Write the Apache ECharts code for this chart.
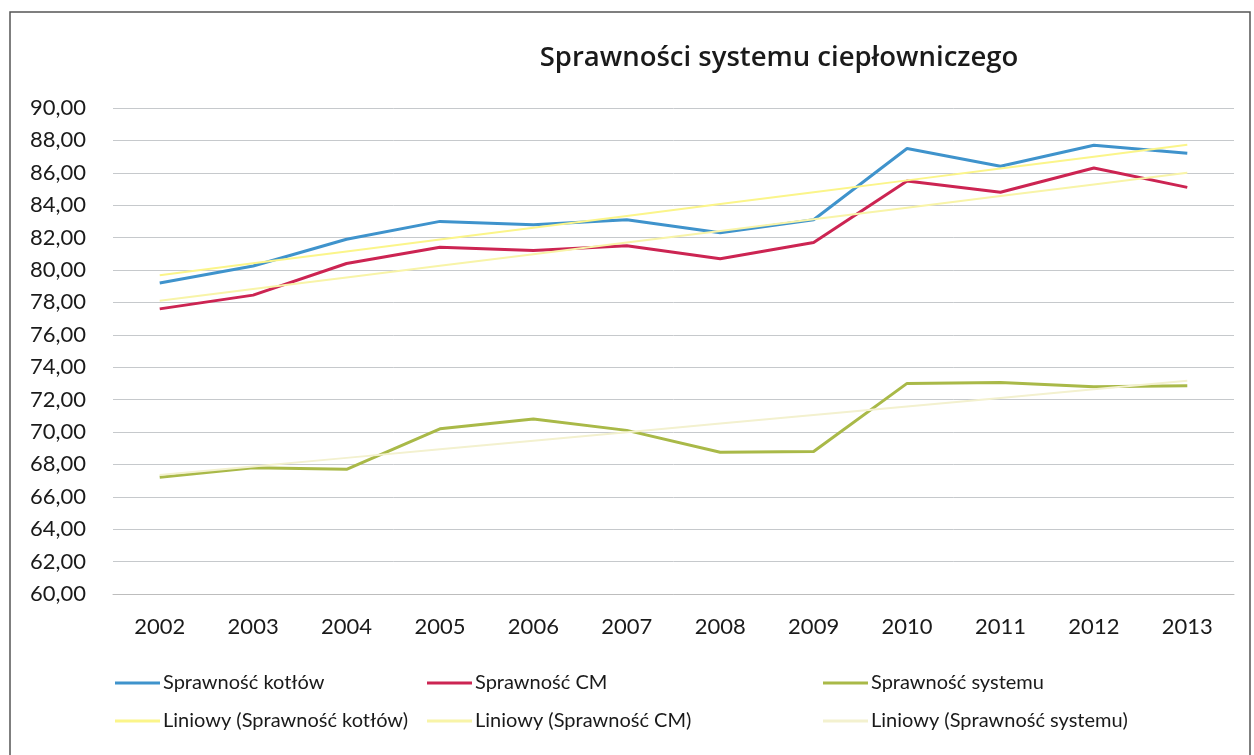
<!DOCTYPE html>
<html>
<head>
<meta charset="utf-8">
<script src="https://cdn.jsdelivr.net/npm/echarts@6/dist/echarts.min.js"></script>
<style>
  html, body { margin: 0; padding: 0; background: #fff; }
  #chart { width: 1254px; height: 755px; }
</style>
</head>
<body>
<div id="chart"></div>
<script>
// Heating system efficiencies, 2002–2013 (%)
const years = ['2002','2003','2004','2005','2006','2007','2008','2009','2010','2011','2012','2013'];
const kotlow  = [79.2, 80.25, 81.9, 83.0, 82.8, 83.1, 82.3, 83.1, 87.5, 86.4, 87.7, 87.2];
const cm      = [77.6, 78.45, 80.4, 81.4, 81.2, 81.5, 80.7, 81.7, 85.5, 84.8, 86.3, 85.1];
const systemu = [67.2, 67.8, 67.7, 70.2, 70.8, 70.1, 68.75, 68.8, 73.0, 73.05, 72.8, 72.85];

const names = ['Sprawność kotłów', 'Sprawność CM', 'Sprawność systemu'];
const trendNames = names.map(n => 'Liniowy (' + n + ')');

// least-squares linear trend over category index
function linearTrend(vals) {
  const n = vals.length;
  let sx = 0, sy = 0, sxx = 0, sxy = 0;
  vals.forEach((v, i) => { sx += i; sy += v; sxx += i * i; sxy += i * v; });
  const b = (n * sxy - sx * sy) / (n * sxx - sx * sx);
  const a = (sy - b * sx) / n;
  return vals.map((_, i) => +(a + b * i).toFixed(3));
}

const FONT = 'Lato, "Open Sans", sans-serif';
const lineColors = ['#3f93cc', '#cc2452', '#a9b948'];
const trendColors = ['#fbf58a', '#f8f4a8', '#f3f1cf'];

const chart = echarts.init(document.getElementById('chart'), null, { renderer: 'canvas' });

const mainSeries = [kotlow, cm, systemu].map((d, i) => ({
  name: names[i], type: 'line', data: d, symbol: 'none', z: 3,
  lineStyle: { color: lineColors[i], width: 3 }, itemStyle: { color: lineColors[i] }
}));
const trendSeries = [kotlow, cm, systemu].map((d, i) => ({
  name: trendNames[i], type: 'line', data: linearTrend(d), symbol: 'none', z: 4,
  lineStyle: { color: trendColors[i], width: 2 }, itemStyle: { color: trendColors[i] }
}));

function legendAt(name, left, top) {
  return {
    data: [name], left: left, top: top, icon: 'rect',
    itemWidth: 45, itemHeight: 3, itemGap: 4,
    textStyle: { fontFamily: FONT, fontSize: 20, color: '#1a1a1a', padding: [0, 0, 0, -2] }
  };
}

chart.setOption({
  animation: false,
  backgroundColor: '#fff',
  title: {
    text: 'Sprawności systemu ciepłowniczego',
    left: 774, top: 39, textAlign: 'center',
    textStyle: { fontFamily: '"Open Sans", Lato, sans-serif', fontSize: 27.5, fontWeight: 600, color: '#1a1a1a' }
  },
  graphic: [{
    type: 'rect', shape: { x: 10, y: 12, width: 1240, height: 760 },
    style: { fill: 'none', stroke: '#555', lineWidth: 1.5 }, silent: true
  }],
  legend: [
    legendAt(names[0], 110, 668),
    legendAt(names[1], 422, 668),
    legendAt(names[2], 818, 668),
    legendAt(trendNames[0], 110, 706),
    legendAt(trendNames[1], 422, 706),
    legendAt(trendNames[2], 818, 706)
  ],
  grid: { left: 113, right: 20, top: 108, bottom: 161, containLabel: false },
  xAxis: {
    type: 'category', data: years, boundaryGap: true,
    axisLine: { show: true, lineStyle: { color: '#bdbdbd' } },
    axisTick: { show: false },
    axisLabel: { fontFamily: FONT, fontSize: 22, color: '#1a1a1a', margin: 22 }
  },
  yAxis: {
    type: 'value', min: 60, max: 90, interval: 2,
    axisLine: { show: false }, axisTick: { show: false },
    axisLabel: {
      fontFamily: FONT, fontSize: 22, color: '#1a1a1a', margin: 27,
      formatter: v => v.toFixed(2).replace('.', ',')
    },
    splitLine: { lineStyle: { color: '#c6c9cc', width: 1 } }
  },
  series: mainSeries.concat(trendSeries)
});
</script>
</body>
</html>
